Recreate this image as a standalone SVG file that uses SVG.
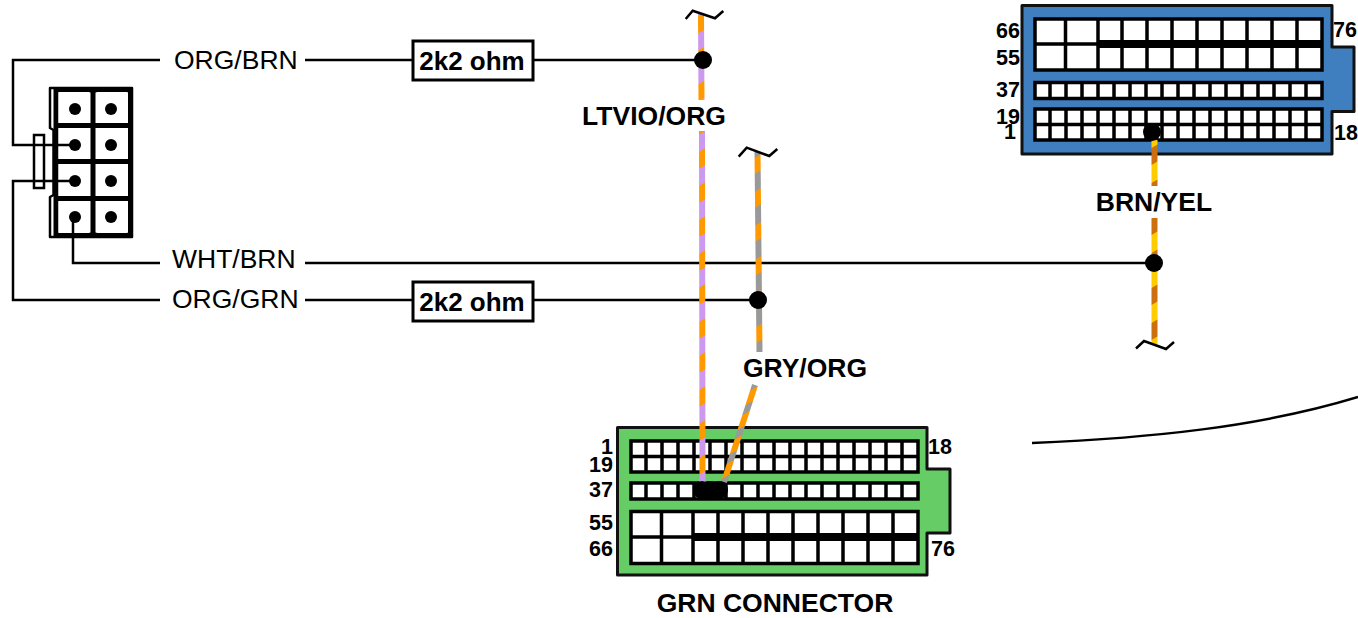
<svg xmlns="http://www.w3.org/2000/svg" width="1358" height="618" viewBox="0 0 1358 618">
<style>
text{font-family:"Liberation Sans",Arial,sans-serif;fill:#000}
.lbl{font-size:26.500px}
.b{font-weight:bold;font-size:26.500px}
.r{font-weight:bold;font-size:26px}
.n{font-weight:bold;font-size:21.500px}
.w{fill:none;stroke:#000;stroke-width:2.500}
.g{fill:#fff;stroke:#000;stroke-width:3.500}
.t{fill:none;stroke:#000;stroke-width:3.500;stroke-linejoin:round}
.th{fill:none;stroke:#000;stroke-width:8}
.sh{fill:none;stroke:#000;stroke-width:2.500;stroke-linejoin:round}
.res{fill:#fff;stroke:#000;stroke-width:3}
.out{stroke:#111;stroke-width:3;stroke-linejoin:round}
.wire{fill:none;stroke-width:6}
</style>
<defs>
<pattern id="pv" patternUnits="userSpaceOnUse" width="12" height="34" patternTransform="translate(697 0) skewY(-30)"><rect width="12" height="34" fill="#ff9900"/><rect width="12" height="17" fill="#cc99ee"/></pattern>
<pattern id="gy" patternUnits="userSpaceOnUse" width="12" height="34" patternTransform="translate(752 0) skewY(-30)"><rect width="12" height="34" fill="#ff9900"/><rect y="5.500" width="12" height="18" fill="#999"/></pattern>
<pattern id="gy2" patternUnits="userSpaceOnUse" width="40" height="20" patternTransform="translate(720 0) skewY(-30)"><rect width="40" height="20" fill="#ff9900"/><rect width="40" height="8" fill="#999"/></pattern>
<pattern id="by" patternUnits="userSpaceOnUse" width="12" height="35" patternTransform="translate(1148 0) skewY(-30)"><rect width="12" height="35" fill="#ffcc00"/><rect y="10" width="12" height="17" fill="#cc6f0f"/></pattern>
</defs>

<g id="connector-8pin">
<path class="sh" d="M132 88H50V128L53.500 130V195L50 197V237H132Z"/>
<path fill="none" stroke="#000" stroke-width="5" d="M56 90H130.500V235H56ZM93 90V235M56 125.500H130.500M56 161.500H130.500M56 198.500H130.500"/>
<path d="M58.500 92h31v31h-31zM96.500 92h31v31h-31zM58.500 128h31v31h-31zM96.500 128h31v31h-31zM58.500 164h31v32h-31zM96.500 164h31v32h-31zM58.500 201h31v32h-31zM96.500 201h31v32h-31z" fill="#fff"/>
<g fill="#000"><circle cx="75" cy="109" r="6"/><circle cx="111" cy="109" r="6"/><circle cx="75" cy="145" r="6"/><circle cx="111" cy="145" r="6"/><circle cx="75" cy="181" r="6"/><circle cx="111" cy="181" r="6"/><circle cx="75" cy="217" r="6"/><circle cx="111" cy="217" r="6"/></g>
<rect x="34" y="135" width="10" height="53" fill="#fff" stroke="#000" stroke-width="2.500"/>
</g>

<g id="connector-green">
<path d="M617.500 427.500H927V469H950V533H927V575H617.500Z" fill="#66cc66" class="out"/>
<rect class="g" x="631" y="441" width="287" height="31"/>
<path class="t" d="M631 456.500H918M646 441V472M662 441V472M678 441V472M694 441V472M710 441V472M726 441V472M742 441V472M758 441V472M774 441V472M790 441V472M806 441V472M822 441V472M838 441V472M854 441V472M870 441V472M886 441V472M902 441V472"/>
<rect class="g" x="631" y="483" width="287" height="16"/>
<path class="t" d="M646 483V499M662 483V499M678 483V499M694 483V499M710 483V499M726 483V499M742 483V499M758 483V499M774 483V499M790 483V499M806 483V499M822 483V499M838 483V499M854 483V499M870 483V499M886 483V499M902 483V499"/>
<rect class="g" x="631" y="511.500" width="287" height="52"/>
<path class="t" d="M631 537H693M661.500 511.500V563.500M718 511.500V563.500M743 511.500V563.500M768 511.500V563.500M793 511.500V563.500M818 511.500V563.500M843 511.500V563.500M868 511.500V563.500M893 511.500V563.500"/>
<path class="t" d="M693 511.500V563.500"/>
<path class="th" d="M693 537H918"/>
<text class="n" x="613" y="454" text-anchor="end">1</text><text class="n" x="613" y="472" text-anchor="end">19</text><text class="n" x="613" y="497" text-anchor="end">37</text><text class="n" x="613" y="530" text-anchor="end">55</text><text class="n" x="613" y="556" text-anchor="end">66</text><text class="n" x="928" y="454">18</text><text class="n" x="931" y="556">76</text>
<text class="b" x="775" y="612.400" text-anchor="middle">GRN CONNECTOR</text>
</g>

<g id="connector-blue">
<path d="M1022 5.500H1332V47H1354V111.500H1332V154H1022Z" fill="#3f7fbf" class="out"/>
<rect class="g" x="1035" y="19" width="287" height="51"/>
<path class="t" d="M1035 44H1098M1065.500 19V70M1122 19V70M1147 19V70M1172 19V70M1197 19V70M1222 19V70M1247 19V70M1272 19V70M1297 19V70"/>
<path class="t" d="M1098 19V70"/>
<path class="th" d="M1098 44H1322"/>
<rect class="g" x="1035" y="82.500" width="287" height="16"/>
<path class="t" d="M1050 82.500V98.500M1066 82.500V98.500M1082 82.500V98.500M1098 82.500V98.500M1114 82.500V98.500M1130 82.500V98.500M1146 82.500V98.500M1162 82.500V98.500M1178 82.500V98.500M1194 82.500V98.500M1210 82.500V98.500M1226 82.500V98.500M1242 82.500V98.500M1258 82.500V98.500M1274 82.500V98.500M1290 82.500V98.500M1306 82.500V98.500"/>
<rect class="g" x="1035" y="109" width="287" height="31"/>
<path class="t" d="M1035 124.500H1322M1050 109V140M1066 109V140M1082 109V140M1098 109V140M1114 109V140M1130 109V140M1146 109V140M1162 109V140M1178 109V140M1194 109V140M1210 109V140M1226 109V140M1242 109V140M1258 109V140M1274 109V140M1290 109V140M1306 109V140"/>
<text class="n" x="1020" y="38" text-anchor="end">66</text><text class="n" x="1020" y="65" text-anchor="end">55</text><text class="n" x="1020" y="97" text-anchor="end">37</text><text class="n" x="1020" y="124" text-anchor="end">19</text><text class="n" x="1016" y="139" text-anchor="end">1</text><text class="n" x="1333" y="37">76</text><text class="n" x="1334" y="140">18</text>
</g>

<g id="connectors">
<path class="w" d="M160 60H13V145H75"/>
<path class="w" d="M160 300H13V181H75"/>
<path class="w" d="M160 263H73V217"/>
<path class="w" d="M305 60H413M533 60H703"/>
<path class="w" d="M305 263H1154"/>
<path class="w" d="M305 300H413M533 300H758"/>
<path class="wire" stroke="url(#pv)" d="M701 14L701.500 100M702 131L702.500 482"/>
<path class="wire" stroke="url(#gy)" d="M757.500 152L759.500 352"/>
<path class="wire" stroke="url(#gy2)" d="M755 385L724 482"/>
<path class="wire" stroke="url(#by)" d="M1154.500 140L1154.500 186M1154.500 218L1154.500 345"/>
<g fill="#000"><circle cx="703" cy="60" r="9"/><circle cx="758" cy="300" r="9"/><circle cx="1154" cy="263" r="9"/><circle cx="1152" cy="132" r="9"/><circle cx="702" cy="490" r="9"/><circle cx="710" cy="490" r="9"/><circle cx="719" cy="490" r="9"/></g>
<path class="w" d="M685.700 19L692.700 10.700L715 18.300L723.300 11"/>
<path class="w" d="M738.700 156.700L746.700 147.700L769.300 156L777.300 149"/>
<path class="w" d="M1136 348.500L1144 341L1166 349L1174 342"/>
<path class="w" d="M1032 443C1150 438 1260 427 1358 397"/>
</g>

<g id="resistor-1"><rect class="res" x="413" y="41" width="120" height="39"/><text class="r" x="472" y="70" text-anchor="middle">2k2 ohm</text></g>
<g id="resistor-2"><rect class="res" x="413" y="282" width="120" height="39"/><text class="r" x="472" y="311" text-anchor="middle">2k2 ohm</text></g>

<g id="labels">
<text class="lbl" x="174" y="69">ORG/BRN</text>
<text class="lbl" x="172" y="268">WHT/BRN</text>
<text class="lbl" x="172" y="308">ORG/GRN</text>
<text class="b" x="654" y="125" text-anchor="middle">LTVIO/ORG</text>
<text class="b" x="805" y="377" text-anchor="middle">GRY/ORG</text>
<text class="b" x="1154" y="211" text-anchor="middle">BRN/YEL</text>
</g>
</svg>
